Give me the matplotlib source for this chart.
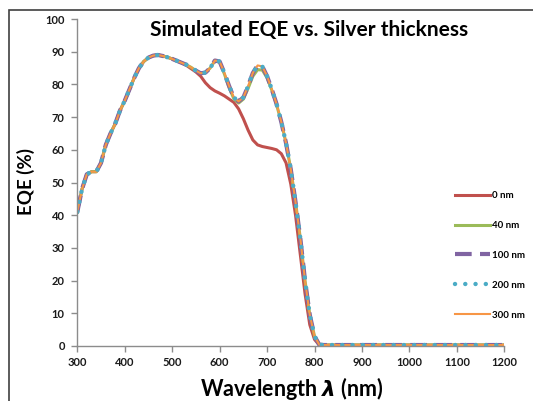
import matplotlib
matplotlib.use("Agg")
import matplotlib.pyplot as plt
from matplotlib.patches import Rectangle

plt.rcParams['font.family'] = ['Lato', 'DejaVu Sans']
plt.rcParams['mathtext.fontset'] = 'custom'
plt.rcParams['mathtext.it'] = 'DejaVu Sans:bold:italic'
plt.rcParams['mathtext.rm'] = 'Lato:bold'

# wavelength grid (nm)
wavelength = [300, 310, 320, 330, 340, 350, 360, 370, 380, 390,
              400, 410, 420, 430, 440, 450, 460, 470, 480, 490,
              500, 510, 520, 530, 540, 550, 560, 570, 580, 590,
              600, 610, 620, 630, 640, 650, 660, 670, 680, 690,
              700, 710, 720, 730, 740, 750, 760, 770, 780, 790,
              800, 810, 820, 850, 900, 950, 1000, 1050, 1100, 1150, 1200]

eqe_0 = [41, 48, 52.5, 53.3, 53.3, 56, 61.5, 65, 68, 72,
         75, 78.5, 82, 85, 87, 88.2, 88.8, 89, 88.7, 88.3,
         87.8, 87.2, 86.6, 85.8, 84.8, 83.8, 82.5, 80.5, 79, 78,
         77.3, 76.5, 75.5, 74.5, 72.5, 69.5, 66, 63, 61.5, 61,
         60.7, 60.4, 60, 58.8, 56, 49.5, 40, 28, 16, 6.5,
         2, 0.3, 0.3, 0.3, 0.3, 0.3, 0.3, 0.3, 0.3, 0.3, 0.3]

eqe_40 = [41, 48, 52.5, 53.3, 53.3, 56, 61.5, 65, 68, 72,
          75, 78.5, 82, 85, 87, 88.2, 88.8, 89, 88.7, 88.3,
          87.8, 87.2, 86.6, 86, 85.2, 84.2, 83.4, 83.6, 85, 87.2,
          86.8, 83.2, 79, 75.6, 74.3, 75.5, 78.8, 82.5, 84.5, 84.4,
          82, 78.2, 73.8, 68.5, 62, 54, 44, 33, 20, 9.5,
          3, 0.4, 0.3, 0.3, 0.3, 0.3, 0.3, 0.3, 0.3, 0.3, 0.3]

eqe_100 = [41, 48, 52.5, 53.3, 53.3, 56, 61.5, 65, 68, 72,
           75, 78.5, 82, 85, 87, 88.2, 88.8, 89, 88.7, 88.3,
           87.8, 87.2, 86.6, 86, 85.2, 84.2, 83.4, 83.6, 85, 87.3,
           87, 83.5, 79.5, 76, 74.8, 76, 79.5, 83.5, 85.8, 85.5,
           82.5, 78.5, 74, 68.5, 62, 54, 44, 33, 20, 9.5,
           3, 0.4, 0.3, 0.3, 0.3, 0.3, 0.3, 0.3, 0.3, 0.3, 0.3]
eqe_200 = list(eqe_100)
eqe_300 = list(eqe_100)

labels = ['0 nm', '40 nm', '100 nm', '200 nm', '300 nm']
colors = ['#C0504D', '#9BBB59', '#8064A2', '#4BACC6', '#F79646']

fig = plt.figure(figsize=(5.33, 4.01), dpi=100)
ax = fig.add_axes([77.3 / 533, 1 - 346 / 401, 427 / 533, 327 / 401])

ax.plot(wavelength, eqe_0, color=colors[0], lw=2.2, label=labels[0])
ax.plot(wavelength, eqe_40, color=colors[1], lw=2.2, label=labels[1])
ax.plot(wavelength, eqe_100, color=colors[2], lw=3.0, ls=(0, (4, 2)), label=labels[2])
ax.plot(wavelength, eqe_200, color=colors[3], lw=3.2, ls=(0, (0.01, 2.3)),
        dash_capstyle='round', label=labels[3], zorder=2.2)
ax.plot(wavelength, eqe_300, color=colors[4], lw=1.5, label=labels[4], zorder=2.1)

ax.set_xlim(300, 1200)
ax.set_ylim(0, 100)
ax.set_xticks(range(300, 1201, 100))
ax.set_yticks(range(0, 101, 10))

for s in ['top', 'right']:
    ax.spines[s].set_visible(False)
for s in ['left', 'bottom']:
    ax.spines[s].set_color('#8C8C8C')
    ax.spines[s].set_linewidth(1.0)
ax.tick_params(colors='#8C8C8C', length=4, width=1.0, labelcolor='#1a1a1a',
               labelsize=8)
ax.tick_params(axis='y', pad=5)
ax.tick_params(axis='x', pad=4)
for t in ax.get_xticklabels() + ax.get_yticklabels():
    t.set_fontweight('bold')

fig.text(309 / 533, 1 - 30 / 401, 'Simulated EQE vs. Silver thickness',
         ha='center', va='center', fontsize=15, fontweight='bold')
fig.text(292 / 533, 1 - 389 / 401, r'Wavelength $\lambda$ (nm)',
         ha='center', va='center', fontsize=15.5, fontweight='bold')
fig.text(26 / 533, 1 - 182 / 401, 'EQE (%)', rotation=90,
         ha='center', va='center', fontsize=13.5, fontweight='bold')

handles, _ = ax.get_legend_handles_labels()
leg = ax.legend(handles, labels, loc='upper left',
                bbox_to_anchor=(455 / 533, 1 - 191 / 401),
                bbox_transform=fig.transFigure, frameon=False, borderpad=0,
                borderaxespad=0, handlelength=3.6, handletextpad=0.2,
                labelspacing=2.15, prop={'size': 7, 'weight': 'bold'})

fig.add_artist(Rectangle((9 / 533, -0.1), 1.2, 1.1 - 10 / 401,
                         transform=fig.transFigure, fill=False,
                         edgecolor='#404040', lw=1.2))

fig.savefig('out.png', dpi=100)
